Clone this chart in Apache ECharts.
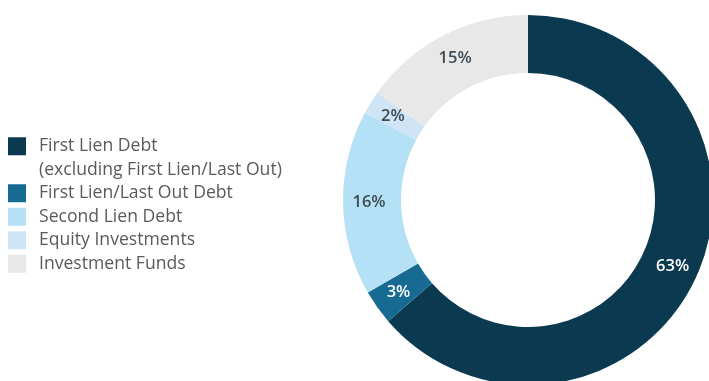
<!DOCTYPE html>
<html>
<head>
<meta charset="utf-8">
<script src="https://cdn.jsdelivr.net/npm/echarts@6/dist/echarts.min.js"></script>
<style>
  html, body { margin: 0; padding: 0; background: #ffffff; }
  #chart { width: 709px; height: 381px; }
</style>
</head>
<body>
<div id="chart"></div>
<script>
// Portfolio composition by investment type (% of total)
const categories = [
  'First Lien Debt',
  'First Lien/Last Out Debt',
  'Second Lien Debt',
  'Equity Investments',
  'Investment Funds'
];
const shares = [63, 3, 16, 2, 15];
const sliceColors = ['#0b3a50', '#176a92', '#b5e1f6', '#cfe5f6', '#e8e8e8'];
const labelColors = ['#ffffff', '#ffffff', '#3d4b55', '#3d4b55', '#3d4b55'];
const legendNotes = { 'First Lien Debt': '(excluding First Lien/Last Out)' };

const chart = echarts.init(document.getElementById('chart'), null, { renderer: 'canvas' });

const data = categories.map((name, i) => ({
  name: name,
  value: shares[i],
  itemStyle: { color: sliceColors[i] },
  label: { color: labelColors[i] }
}));

chart.setOption({
  animation: false,
  backgroundColor: '#ffffff',
  legend: {
    orient: 'vertical',
    left: 8,
    top: 111,
    padding: 0,
    itemGap: 0,
    itemWidth: 18,
    itemHeight: 18,
    icon: 'rect',
    selectedMode: false,
    data: categories,
    formatter: function (name) {
      // a note line sits under its entry; the leading blank line keeps the
      // entry's first line level with its swatch
      return legendNotes[name] ? '\n' + name + '\n' + legendNotes[name] : name;
    },
    textStyle: {
      fontFamily: 'Open Sans',
      fontSize: 17.6,
      color: '#5a5a5a',
      lineHeight: 23.5,
      padding: [0, 0, 0, 8]
    }
  },
  series: [{
    type: 'pie',
    center: [528, 200],
    radius: [127, 185],
    startAngle: 90,
    clockwise: true,
    avoidLabelOverlap: false,
    silent: true,
    label: {
      show: true,
      position: 'inside',
      formatter: '{c}%',
      fontFamily: 'Open Sans',
      fontWeight: 600,
      fontSize: 16.5
    },
    labelLine: { show: false },
    data: data
  }]
});
</script>
</body>
</html>
